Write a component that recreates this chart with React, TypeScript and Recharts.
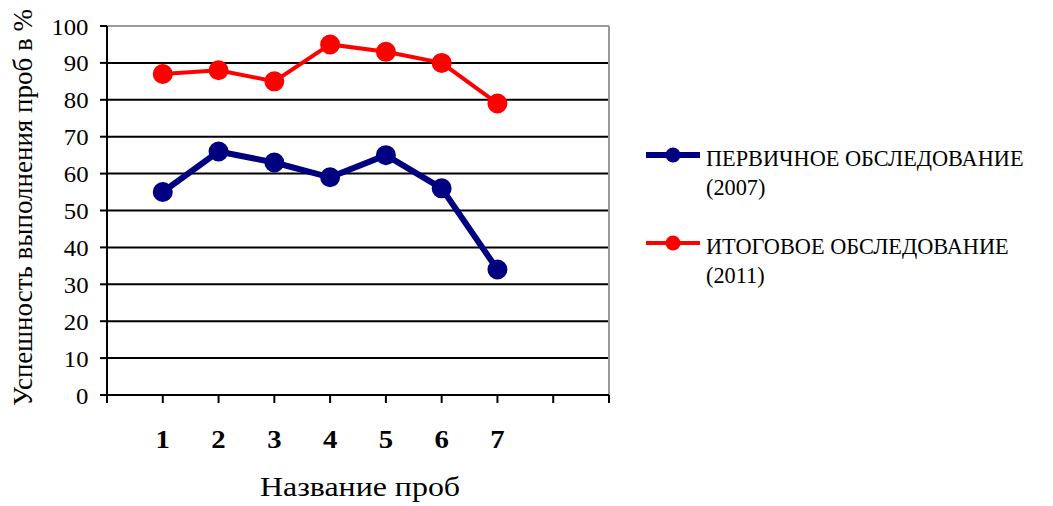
import React from 'react';
import {
  LineChart,
  Line,
  XAxis,
  YAxis,
  CartesianGrid,
  ReferenceLine,
  Label,
} from 'recharts';

const categories = [1, 2, 3, 4, 5, 6, 7];
const primaryValues = [55, 66, 63, 59, 65, 56, 34];
const finalValues = [87, 88, 85, 95, 93, 90, 79];
const xTicks = [0, 1, 2, 3, 4, 5, 6, 7, 8, 9];
const yTicks = [0, 10, 20, 30, 40, 50, 60, 70, 80, 90, 100];
const seriesNames = ['ПЕРВИЧНОЕ ОБСЛЕДОВАНИЕ', 'ИТОГОВОЕ ОБСЛЕДОВАНИЕ'];
const seriesYears = ['(2007)', '(2011)'];
const seriesColors = ['#000080', '#FF0000'];
const xTitle = 'Название проб';
const yTitle = 'Успешность выполнения проб в %';

const data = categories.map((c, i) => ({
  x: c,
  primary: primaryValues[i],
  final: finalValues[i],
}));

const FONT = 'Liberation Serif';

const XTick = (props: any) => {
  const { x, y, payload } = props;
  const v = payload.value;
  if (v < 1 || v > 7) return null;
  return (
    <text
      transform={`translate(${x},${y + 43}) scale(1.15,1)`}
      x={0}
      y={0}
      textAnchor="middle"
      style={{ fontFamily: FONT, fontWeight: 'bold', fontSize: 25 }}
      fill="#000"
    >
      {v}
    </text>
  );
};

const YTick = (props: any) => {
  const { x, y, payload } = props;
  return (
    <text
      transform={`translate(${x - 9.5},${y + 8.5}) scale(1.1,1)`}
      x={0}
      y={0}
      textAnchor="end"
      style={{ fontFamily: FONT, fontSize: 22.5 }}
      fill="#000"
    >
      {payload.value}
    </text>
  );
};

const XTitle = (props: any) => {
  const vb = props.viewBox || { x: 0, y: 0, width: 0, height: 0 };
  const cx = vb.x + vb.width / 2 + 2;
  const by = vb.y + vb.height - 10;
  return (
    <text
      transform={`translate(${cx},${by}) scale(1.14,1)`}
      x={0}
      y={0}
      textAnchor="middle"
      style={{ fontFamily: FONT, fontSize: 28 }}
      fill="#000"
    >
      {xTitle}
    </text>
  );
};

const YTitle = (props: any) => {
  const vb = props.viewBox || { x: 0, y: 0, width: 0, height: 0 };
  const cy = vb.y + vb.height / 2 - 3;
  return (
    <text
      transform={`translate(${vb.x + 32},${cy}) rotate(-90)`}
      x={0}
      y={0}
      textAnchor="middle"
      style={{ fontFamily: FONT, fontSize: 27 }}
      fill="#000"
    >
      {yTitle}
    </text>
  );
};

const LegendBox = () => {
  const rows = [0, 1];
  return (
    <svg
      width={410}
      height={160}
      style={{ position: 'absolute', left: 643, top: 140, display: 'block' }}
    >
      {rows.map((i) => {
        const cy = 15 + i * 88;
        return (
          <g key={i}>
            <line
              x1={3}
              x2={57}
              y1={cy}
              y2={cy}
              stroke={seriesColors[i]}
              strokeWidth={i === 0 ? 6 : 4}
            />
            <circle cx={30} cy={cy} r={7.5} fill={seriesColors[i]} />
            <text x={63} y={cy + 11} style={{ fontFamily: FONT, fontSize: 22.3 }} fill="#000">
              {seriesNames[i]}
            </text>
            <text x={63} y={cy + 40} style={{ fontFamily: FONT, fontSize: 22.3 }} fill="#000">
              {seriesYears[i]}
            </text>
          </g>
        );
      })}
    </svg>
  );
};

export default function App() {
  return (
    <div style={{ position: 'absolute', left: 0, top: 0, width: 1053, height: 506, background: '#fff' }}>
      <LineChart
        width={1053}
        height={506}
        data={data}
        margin={{ top: 26, right: 444, bottom: 0, left: 0 }}
      >
        <CartesianGrid horizontal vertical={false} stroke="#000" strokeWidth={2} />
        <XAxis
          dataKey="x"
          type="number"
          domain={[0, 9]}
          ticks={xTicks}
          interval={0}
          allowDecimals={false}
          height={111}
          tickSize={8}
          tickLine={{ stroke: '#000', strokeWidth: 2 }}
          axisLine={{ stroke: '#000', strokeWidth: 2 }}
          tick={<XTick />}
        >
          <Label content={<XTitle />} />
        </XAxis>
        <YAxis
          type="number"
          domain={[0, 100]}
          ticks={yTicks}
          interval={0}
          width={107}
          tickSize={7}
          tickLine={{ stroke: '#000', strokeWidth: 2 }}
          axisLine={{ stroke: '#000', strokeWidth: 2 }}
          tick={<YTick />}
        >
          <Label content={<YTitle />} />
        </YAxis>
        <ReferenceLine y={100} stroke="#999" strokeWidth={2} />
        <ReferenceLine x={9} stroke="#999" strokeWidth={2} />
        <Line
          dataKey="primary"
          stroke={seriesColors[0]}
          strokeWidth={6}
          dot={{ r: 9, fill: seriesColors[0], stroke: seriesColors[0], strokeWidth: 2 }}
          isAnimationActive={false}
        />
        <Line
          dataKey="final"
          stroke={seriesColors[1]}
          strokeWidth={4}
          dot={{ r: 9, fill: seriesColors[1], stroke: seriesColors[1], strokeWidth: 2 }}
          isAnimationActive={false}
        />
      </LineChart>
      <LegendBox />
    </div>
  );
}
